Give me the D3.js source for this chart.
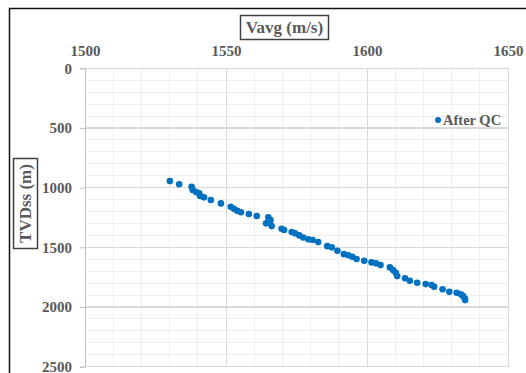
<!DOCTYPE html>
<html><head><meta charset="utf-8">
<script src="https://cdn.jsdelivr.net/npm/d3@7"></script>
<style>
html,body{margin:0;padding:0;background:#fff;}
svg{display:block;}
</style></head>
<body>
<svg id="chart" width="526" height="373"></svg>
<script>
// ---- data ----
const seriesName = "After QC";
const vavg = [1530.1,1533.4,1537.8,1538.2,1539.4,1540.5,1540.8,1542.2,1544.6,1548.2,1551.7,1552.8,1554.0,1555.3,1558.1,1560.9,1565.0,1565.8,1564.2,1566.2,1569.7,1570.6,1573.3,1574.5,1576.0,1577.4,1579.2,1580.7,1582.7,1585.9,1587.5,1589.5,1591.8,1593.4,1594.8,1596.3,1599.0,1601.6,1603.2,1604.8,1608.1,1609.3,1610.2,1610.7,1613.5,1615.2,1617.8,1620.8,1622.9,1623.8,1626.8,1629.2,1631.8,1633.3,1634.1,1634.7,1634.8];
const tvdss = [945,972,992,1020,1037,1048,1070,1081,1104,1132,1160,1177,1194,1206,1221,1238,1249,1272,1299,1322,1344,1355,1372,1383,1400,1417,1433,1439,1456,1490,1500,1529,1557,1566,1579,1598,1613,1626,1634,1649,1668,1691,1713,1741,1760,1780,1797,1808,1816,1831,1852,1873,1881,1894,1909,1928,1942];
const xTicks = [1500,1550,1600,1650];
const yTicks = [0,500,1000,1500,2000,2500];
const xTitle = "Vavg (m/s)";
const yTitle = "TVDss (m)";

const svg = d3.select("#chart");
const font = "'Liberation Serif','Times New Roman',serif";
const textCol = "#595959";

// outer frame
svg.append("rect").attr("x",9.5).attr("y",8.5).attr("width",540).attr("height",400)
  .attr("fill","#fff").attr("stroke","#111").attr("stroke-width",1.5);

const x = d3.scaleLinear().domain([1500,1650]).range([85,508]);
const y = d3.scaleLinear().domain([0,2500]).range([68.3,366.7]);

// minor grid
const g = svg.append("g");
d3.range(1500,1651,10).filter(v=>v%50!==0).forEach(v=>{
  g.append("line").attr("x1",x(v)).attr("x2",x(v)).attr("y1",y(0)).attr("y2",y(2500))
   .attr("stroke","#efefef").attr("stroke-width",1).attr("shape-rendering","crispEdges");
});
d3.range(0,2501,100).filter(v=>v%500!==0).forEach(v=>{
  g.append("line").attr("x1",x(1500)).attr("x2",x(1650)).attr("y1",y(v)).attr("y2",y(v))
   .attr("stroke","#efefef").attr("stroke-width",1).attr("shape-rendering","crispEdges");
});
// major grid
xTicks.forEach(v=>{
  g.append("line").attr("x1",x(v)).attr("x2",x(v)).attr("y1",y(0)).attr("y2",y(2500))
   .attr("stroke","#d9d9d9").attr("stroke-width",1).attr("shape-rendering","crispEdges");
});
yTicks.forEach(v=>{
  g.append("line").attr("x1",x(1500)).attr("x2",x(1650)).attr("y1",y(v)).attr("y2",y(v))
   .attr("stroke","#d9d9d9").attr("stroke-width",1.5).attr("shape-rendering","crispEdges");
});

// axes
const xAxis = svg.append("g").attr("transform",`translate(0,${y(0)})`)
  .call(d3.axisTop(x).tickValues(xTicks).tickSize(0).tickPadding(12).tickFormat(d3.format("d")));
xAxis.select(".domain").remove();
xAxis.selectAll("text").attr("font-family",font).attr("font-weight","bold").attr("font-size","15px").attr("fill",textCol);

const yAxis = svg.append("g").attr("transform",`translate(${x(1500)},0)`)
  .call(d3.axisLeft(y).tickValues(yTicks).tickSize(5).tickPadding(8).tickFormat(d3.format("d")));
yAxis.select(".domain").attr("stroke","#bfbfbf");
yAxis.selectAll(".tick line").attr("stroke","#bfbfbf");
yAxis.selectAll("text").attr("font-family",font).attr("font-weight","bold").attr("font-size","15px").attr("fill",textCol);

// points
svg.append("g").selectAll("circle").data(vavg.map((v,i)=>[v,tvdss[i]])).join("circle")
  .attr("cx",d=>x(d[0])).attr("cy",d=>y(d[1])).attr("r",3.3).attr("fill","#0070C0");

// legend
svg.append("circle").attr("cx",438).attr("cy",120).attr("r",3).attr("fill","#0070C0");
svg.append("text").attr("x",443).attr("y",125).text(seriesName)
  .attr("font-family",font).attr("font-weight","bold").attr("font-size","14.5px").attr("fill",textCol);

// x title boxed
svg.append("rect").attr("x",240.5).attr("y",15.5).attr("width",88).attr("height",24)
  .attr("fill","#fff").attr("stroke","#404040").attr("stroke-width",1.5);
svg.append("text").attr("x",284.5).attr("y",33).attr("text-anchor","middle").text(xTitle)
  .attr("font-family",font).attr("font-weight","bold").attr("font-size","17px").attr("fill",textCol);

// y title boxed
svg.append("rect").attr("x",13.5).attr("y",158.5).attr("width",24).attr("height",90)
  .attr("fill","#fff").attr("stroke","#404040").attr("stroke-width",1.5);
svg.append("text").attr("transform","translate(31,203.5) rotate(-90)").attr("text-anchor","middle").text(yTitle)
  .attr("font-family",font).attr("font-weight","bold").attr("font-size","17px").attr("fill",textCol);
</script>
</body></html>
